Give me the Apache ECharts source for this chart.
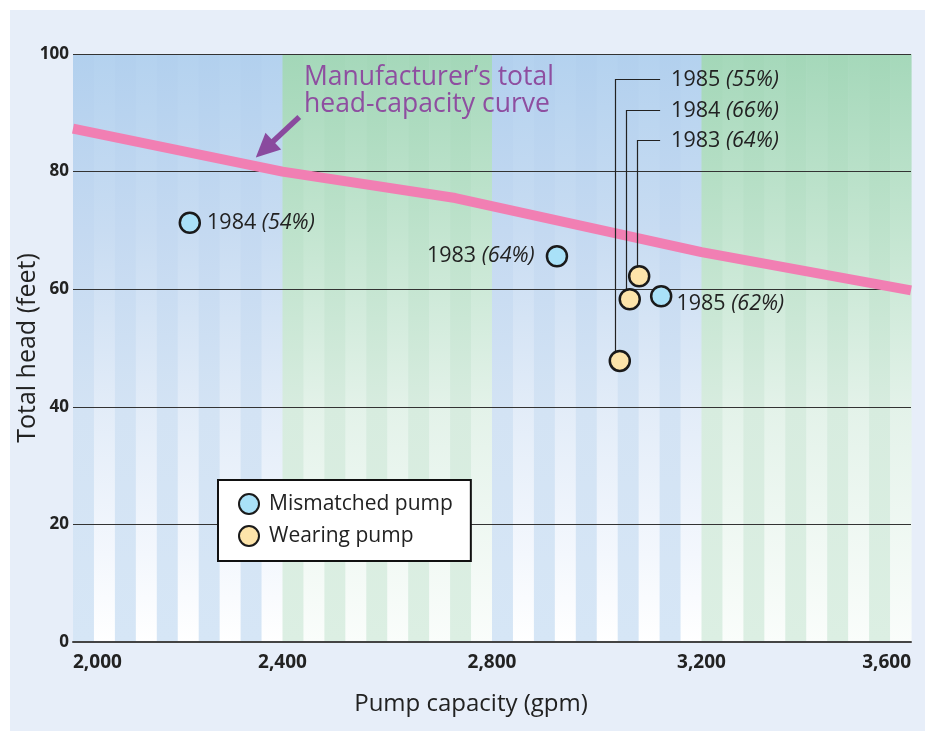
<!DOCTYPE html>
<html>
<head>
<meta charset="utf-8">
<title>Total head vs pump capacity</title>
<script src="https://cdn.jsdelivr.net/npm/echarts@6/dist/echarts.min.js"></script>
<style>
html, body { margin: 0; padding: 0; background: #fff; }
#main { width: 934px; height: 731px; }
</style>
</head>
<body>
<div id="main"></div>
<script>
// manufacturer's head-capacity curve
var curveCapacity = [2000, 2400, 2730, 3200, 3600];
var curveHead = [87.3, 80.0, 75.5, 66.3, 59.8];

// mismatched pump tests
var mismatchedCapacity = [2223, 2924, 3123];
var mismatchedHead = [71.3, 65.6, 58.8];
var mismatchedYear = ['1984', '1983', '1985'];
var mismatchedEff = ['54%', '64%', '62%'];

// wearing pump tests
var wearingCapacity = [3081, 3063, 3044];
var wearingHead = [62.2, 58.3, 47.8];
var wearingYear = ['1983', '1984', '1985'];
var wearingEff = ['64%', '66%', '55%'];
var wearingLabelHead = [85.4, 90.5, 95.7]; // row of each callout, in feet

var xTicks = [2000, 2400, 2800, 3200, 3600];
var yTicks = [0, 20, 40, 60, 80, 100];

// background bands (blue / green), striped every 40 gpm
var bandStart = [2000, 2400, 2800, 3200];
var bandKind = ['blue', 'green', 'blue', 'green'];

var FONT = 'Open Sans';
var LABEL_SIZE = 21.5;

var gradients = {
    blue0: [{offset: 0, color: '#b2d0ee'}, {offset: 0.3, color: '#c4d9f1'}, {offset: 0.6, color: '#d3e3f4'}, {offset: 1, color: '#d6e6f6'}],
    blue1: [{offset: 0, color: '#b4d2ef'}, {offset: 0.3, color: '#c8dcf2'}, {offset: 0.6, color: '#e2ecf8'}, {offset: 0.85, color: '#f3f7fd'}, {offset: 1, color: '#ffffff'}],
    green0: [{offset: 0, color: '#a3d7b8'}, {offset: 0.3, color: '#bde2cb'}, {offset: 0.6, color: '#d7ecdf'}, {offset: 1, color: '#dcefe3'}],
    green1: [{offset: 0, color: '#a5d8ba'}, {offset: 0.3, color: '#c3e5d0'}, {offset: 0.6, color: '#e3f2e9'}, {offset: 1, color: '#fafdfb'}]
};

var stripes = [];
var stripeKeys = [];
for (var b = 0; b < bandStart.length; b++) {
    for (var i = 0; i < 10; i++) {
        stripes.push([bandStart[b] + i * 40, bandStart[b] + (i + 1) * 40]);
        stripeKeys.push(bandKind[b] + (i % 2));
    }
}

function comma(v) {
    return String(v).replace(/\B(?=(\d{3})+(?!\d))/g, ',');
}

var rich = {
    y: {fontFamily: FONT, fontSize: LABEL_SIZE, color: '#222'},
    p: {fontFamily: FONT, fontSize: LABEL_SIZE, color: '#222', fontStyle: 'italic'}
};

var labelPos = ['right', 'left', 'right'];
var labelOffset = [[0, 0], [0, 0], [0, 8]];
var labelDist = [6, 11, 4];

var mismatchedData = [];
for (var k = 0; k < mismatchedCapacity.length; k++) {
    mismatchedData.push({
        value: [mismatchedCapacity[k], mismatchedHead[k]],
        label: {
            show: true,
            position: labelPos[k],
            distance: labelDist[k],
            offset: labelOffset[k],
            fontFamily: FONT,
            fontSize: LABEL_SIZE,
            color: '#222',
            formatter: '{y|' + mismatchedYear[k] + '} {p|(' + mismatchedEff[k] + ')}',
            rich: rich
        }
    });
}
var wearingData = [];
for (var w = 0; w < wearingCapacity.length; w++) {
    wearingData.push([wearingCapacity[w], wearingHead[w]]);
}
var curveData = [];
for (var c = 0; c < curveCapacity.length; c++) {
    curveData.push([curveCapacity[c], curveHead[c]]);
}

var chart = echarts.init(document.getElementById('main'));

var option = {
    backgroundColor: '#ffffff',
    animation: false,
    grid: {left: 73, right: 23, top: 54, bottom: 89, containLabel: false, outerBoundsMode: 'none'},
    legend: {
        data: ['Mismatched pump', 'Wearing pump'],
        orient: 'vertical',
        left: 218,
        top: 480,
        icon: 'circle',
        itemWidth: 20,
        itemHeight: 20,
        itemGap: 10,
        padding: [13, 18, 14, 20],
        backgroundColor: '#ffffff',
        borderColor: '#111',
        borderWidth: 2,
        borderRadius: 0,
        selectedMode: false,
        textStyle: {fontFamily: FONT, fontSize: 21, lineHeight: 20, color: '#222', padding: [0, 0, 0, 5]}
    },
    xAxis: {
        type: 'value',
        min: xTicks[0],
        max: xTicks[xTicks.length - 1],
        interval: xTicks[1] - xTicks[0],
        z: 1,
        name: 'Pump capacity (gpm)',
        nameLocation: 'middle',
        nameGap: 50,
        nameMoveOverlap: false,
        nameTextStyle: {fontFamily: FONT, fontSize: 24, color: '#222', padding: [0, 42, 0, 0]},
        axisLine: {show: true, lineStyle: {color: '#444', width: 2}},
        axisTick: {show: false},
        splitLine: {show: false},
        axisLabel: {
            fontFamily: FONT, fontSize: 19, fontWeight: 'bold', color: '#222', margin: 11,
            alignMinLabel: 'left', alignMaxLabel: 'right',
            formatter: comma
        }
    },
    yAxis: {
        type: 'value',
        min: yTicks[0],
        max: yTicks[yTicks.length - 1],
        interval: yTicks[1] - yTicks[0],
        z: 1,
        name: 'Total head (feet)',
        nameLocation: 'middle',
        nameGap: 33,
        nameMoveOverlap: false,
        nameTextStyle: {fontFamily: FONT, fontSize: 25, color: '#222'},
        axisLine: {show: false},
        axisTick: {show: false},
        splitLine: {show: true, lineStyle: {color: '#333', width: 1}},
        axisLabel: {fontFamily: FONT, fontSize: 17, fontWeight: 'bold', color: '#222', margin: 4}
    },
    series: [
        {
            name: 'background',
            type: 'custom',
            z: 0,
            silent: true,
            encode: {x: [0, 1]},
            data: stripes,
            renderItem: function (params, api) {
                var p0 = api.coord([api.value(0), yTicks[yTicks.length - 1]]);
                var p1 = api.coord([api.value(1), yTicks[0]]);
                return {
                    type: 'rect',
                    shape: {x: p0[0], y: p0[1], width: p1[0] - p0[0] + 0.6, height: p1[1] - p0[1]},
                    style: {fill: new echarts.graphic.LinearGradient(0, 0, 0, 1, gradients[stripeKeys[params.dataIndex]])}
                };
            }
        },
        {
            name: 'Manufacturer curve',
            type: 'line',
            z: 3,
            silent: true,
            symbol: 'none',
            data: curveData,
            lineStyle: {color: '#f17fb3', width: 10, cap: 'butt'}
        },
        {
            name: 'Mismatched pump',
            type: 'scatter',
            z: 6,
            symbol: 'circle',
            symbolSize: 20,
            itemStyle: {color: '#a9e1f8', borderColor: '#1a1a1a', borderWidth: 2.5, opacity: 1},
            data: mismatchedData
        },
        {
            name: 'Wearing pump',
            type: 'scatter',
            z: 6,
            symbol: 'circle',
            symbolSize: 20,
            itemStyle: {color: '#fde4aa', borderColor: '#1a1a1a', borderWidth: 2.5, opacity: 1},
            data: wearingData
        }
    ]
};

chart.setOption(option);

// callouts, arrow and panel drawn from data positions
var leaderShift = [2, 4, 5];
var calloutEndCapacity = 3121;
var graphics = [{
    type: 'rect', z: -10, silent: true,
    shape: {x: 10, y: 10, width: 915, height: 721},
    style: {fill: '#e7eef9'}
}];

for (var j = 0; j < wearingCapacity.length; j++) {
    var pt = chart.convertToPixel({gridIndex: 0}, [wearingCapacity[j], wearingHead[j]]);
    var end = chart.convertToPixel({gridIndex: 0}, [calloutEndCapacity, wearingLabelHead[j]]);
    var lx = Math.round(pt[0] - leaderShift[j]) + 0.5;
    var ly = Math.round(end[1]) + 0.5;
    graphics.push({
        type: 'polyline', z: 4, silent: true,
        shape: {points: [[lx, pt[1]], [lx, ly], [end[0], ly]]},
        style: {stroke: '#222', lineWidth: 1.2, fill: null}
    });
    graphics.push({
        type: 'text', z: 4, silent: true,
        x: end[0] + 11, y: ly,
        style: {
            text: '{y|' + wearingYear[j] + '} {p|(' + wearingEff[j] + ')}',
            fontFamily: FONT, fontSize: LABEL_SIZE, fill: '#222',
            rich: rich, verticalAlign: 'middle', align: 'left'
        }
    });
}

// arrow pointing at the manufacturer's curve
var tip = chart.convertToPixel({gridIndex: 0}, [2349, 82.4]);
var tail = chart.convertToPixel({gridIndex: 0}, [2432, 89.3]);
var dx = tail[0] - tip[0], dy = tail[1] - tip[1];
var len = Math.sqrt(dx * dx + dy * dy);
var ux = dx / len, uy = dy / len;
var headLen = 24, headHalf = 11.5;
var bx = tip[0] + ux * headLen, by = tip[1] + uy * headLen;
graphics.push({
    type: 'line', z: 5, silent: true,
    shape: {x1: bx - ux * 2, y1: by - uy * 2, x2: tail[0], y2: tail[1]},
    style: {stroke: '#8a4a9e', lineWidth: 5.5}
});
graphics.push({
    type: 'polygon', z: 5, silent: true,
    shape: {points: [[tip[0], tip[1]], [bx - uy * headHalf, by + ux * headHalf], [bx + uy * headHalf, by - ux * headHalf]]},
    style: {fill: '#8a4a9e'}
});
graphics.push({
    type: 'text', z: 5, silent: true,
    x: 304, y: 91,
    style: {
        text: 'Manufacturer\u2019s total\nhead-capacity curve',
        fontFamily: FONT, fontSize: 26.5, lineHeight: 27, fill: '#8e4ea0',
        align: 'left', verticalAlign: 'middle'
    }
});

chart.setOption({graphic: graphics});
</script>
</body>
</html>
